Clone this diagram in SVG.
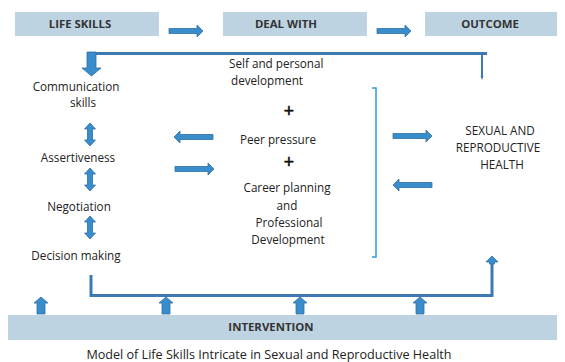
<svg xmlns="http://www.w3.org/2000/svg" width="565" height="362" viewBox="0 0 565 362">
  <defs>
    <style>
      .box { fill: #BED3E2; }
      .hdr { font-family: "Open Sans", "Noto Sans", sans-serif; font-size: 11.4px; font-weight: bold; fill: #333; text-anchor: middle; }
      .lbl { font-family: "Open Sans", "Noto Sans", sans-serif; font-size: 11.7px; fill: #222; text-anchor: middle; }
      .lft { text-anchor: start; }
      .plus { font-family: "Open Sans", "Noto Sans", sans-serif; font-size: 18px; fill: #111; stroke: #111; stroke-width: 0.6; text-anchor: middle; }
      .blk { fill: #3A8DCB; stroke: #2F6FA8; stroke-width: 0.8; }
      .line { fill: none; stroke: #3E79B2; stroke-width: 3; }
      .thin { fill: none; stroke: #3E79B2; stroke-width: 2; }
      .brk { fill: none; stroke: #3399DD; stroke-width: 1.5; }
      .cap { font-family: "Open Sans", "Noto Sans", sans-serif; font-size: 12.6px; fill: #222; text-anchor: middle; }
    </style>
    <!-- block arrow shapes, drawn at the origin pointing right / down / up -->
    <path id="arrR" d="M0,-2.5 H28 V-6 L34,0 L28,6 V2.5 H0 Z"/>
    <path id="arrR40" d="M0,-2.5 H33 V-6 L39,0 L33,6 V2.5 H0 Z"/>
    <path id="arrUp" d="M-4,17 V6 H-7 L0,0 L7,6 H4 V17 Z"/>
    <path id="dbl" d="M0,0 L5.5,6 H2.5 V17 H5.5 L0,23 L-5.5,17 H-2.5 V6 H-5.5 Z"/>
  </defs>

  <!-- header row -->
  <g id="life-skills">
    <rect class="box" x="15" y="12" width="144" height="24"/>
    <text class="hdr" x="80" y="28">LIFE SKILLS</text>
  </g>
  <g id="deal-with">
    <rect class="box" x="223" y="12" width="144" height="24"/>
    <text class="hdr" x="286" y="28">DEAL WITH</text>
  </g>
  <g id="outcome">
    <rect class="box" x="425" y="12" width="132" height="24"/>
    <text class="hdr" x="490" y="28">OUTCOME</text>
  </g>

  <!-- life skills list -->
  <g id="communication">
    <text class="lbl" x="76" y="91">Communication</text>
    <text class="lbl" x="83" y="107">skills</text>
  </g>
  <g id="assertiveness">
    <text class="lbl" x="78" y="162">Assertiveness</text>
  </g>
  <g id="negotiation">
    <text class="lbl" x="79" y="211">Negotiation</text>
  </g>
  <g id="decision-making">
    <text class="lbl" x="76" y="260">Decision making</text>
  </g>

  <!-- issues dealt with -->
  <g id="deal-items">
    <text class="lbl lft" x="229" y="68">Self and personal</text>
    <text class="lbl lft" x="231" y="85">development</text>
    <text class="plus" x="289" y="116.5">+</text>
    <text class="lbl" x="278" y="144">Peer pressure</text>
    <text class="plus" x="289" y="168">+</text>
    <text class="lbl" x="287" y="192">Career planning</text>
    <text class="lbl" x="287" y="210">and</text>
    <text class="lbl" x="289" y="227">Professional</text>
    <text class="lbl" x="288" y="244">Development</text>
  </g>

  <!-- outcome -->
  <g id="srh">
    <text class="lbl" x="500" y="135">SEXUAL AND</text>
    <text class="lbl" x="498" y="152">REPRODUCTIVE</text>
    <text class="lbl" x="502" y="169">HEALTH</text>
  </g>

  <!-- intervention bar -->
  <g id="intervention">
    <rect class="box" x="8" y="315" width="549" height="25"/>
    <text class="hdr" x="271" y="331">INTERVENTION</text>
  </g>

  <!-- connectors -->
  <g id="connectors">
    <!-- header flow -->
    <use href="#arrR" class="blk" x="169" y="31"/>
    <use href="#arrR" class="blk" x="377" y="31"/>

    <!-- feedback loop from outcome to life skills -->
    <path class="line" d="M92,53.5 H487"/>
    <path class="thin" d="M482,54 V78"/>
    <path d="M480.5,76 L482,80 L483.5,76 Z" fill="#3E79B2"/>
    <path class="blk" d="M87,52 H96 V68 H101 L91.5,76 L82,68 H87 Z"/>

    <!-- links between skills -->
    <use href="#dbl" class="blk" x="90" y="123"/>
    <use href="#dbl" class="blk" x="90" y="168"/>
    <use href="#dbl" class="blk" x="90" y="216"/>

    <!-- skills <-> issues -->
    <use href="#arrR40" class="blk" transform="translate(213,137) scale(-1,1)"/>
    <use href="#arrR40" class="blk" x="175" y="169"/>

    <!-- bracket around the issues -->
    <path class="brk" d="M372,88 H376 V257 H372"/>

    <!-- issues <-> outcome -->
    <use href="#arrR40" class="blk" x="393" y="136"/>
    <use href="#arrR40" class="blk" transform="translate(432,185) scale(-1,1)"/>

    <!-- intervention feed line -->
    <path class="line" d="M91,275 V295.5 H492 V264"/>
    <path class="blk" d="M489.5,264 V262 H486 L492,256 L498,262 H494.5 V264 Z"/>
    <use href="#arrUp" class="blk" x="41" y="297"/>
    <use href="#arrUp" class="blk" x="166" y="297"/>
    <use href="#arrUp" class="blk" x="300" y="297"/>
    <use href="#arrUp" class="blk" x="420" y="297"/>
  </g>

  <text class="cap" x="269" y="359">Model of Life Skills Intricate in Sexual and Reproductive Health</text>
</svg>
